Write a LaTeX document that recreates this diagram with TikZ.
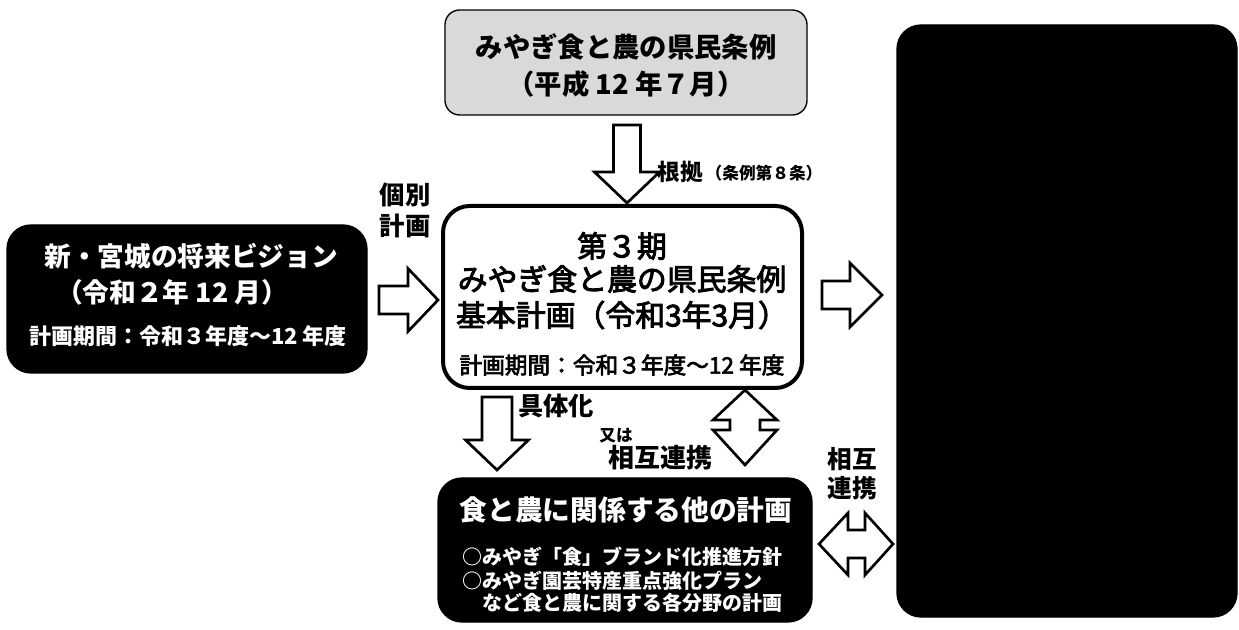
\documentclass[tikz,border=0pt]{standalone}
\usepackage{fontspec}
\setmainfont{Noto Sans CJK JP}
\newfontfamily\jpsemi{Noto Sans CJK JP}[FakeBold=3]
\newcommand{\blkdown}[6]{\draw[blkarrow] ({#1-#4},#2) -- ({#1+#4},#2) -- ({#1+#4},#3) -- ({#1+#5},#3) -- (#1,#6) -- ({#1-#5},#3) -- ({#1-#4},#3) -- cycle;}
\newcommand{\blkright}[6]{\draw[blkarrow] (#2,{#1-#4}) -- (#2,{#1+#4}) -- (#3,{#1+#4}) -- (#3,{#1+#5}) -- (#6,#1) -- (#3,{#1-#5}) -- (#3,{#1-#4}) -- cycle;}
\begin{document}
\begin{tikzpicture}[x=0.75pt,y=-0.75pt,
  blkarrow/.style={draw=black,fill=white,line width=2pt,line join=miter},
  txt/.style={inner sep=0pt,anchor=center},
  whitebox/.style={draw=black,fill=white,rounded corners=20pt,line width=3pt},
  darkbox/.style={draw=black,fill=black,rounded corners=18pt,line width=1pt},
  graybox/.style={draw=black,fill=black!15,rounded corners=11pt,line width=1pt},
  wt/.style={txt,text=white,font=\bfseries}
]
\useasboundingbox (0,0) rectangle (1239,630);
\fill[white] (0,0) rectangle (1239,630);

% boxes
\node[graybox,minimum width=271.5pt,minimum height=78.75pt] (jorei) at (626,62.5) {};
\node[whitebox,minimum width=269.25pt,minimum height=136.5pt] (kihon) at (622.5,297) {};
\node[darkbox,minimum width=270pt,minimum height=111pt] (vision) at (187,299) {};
\node[darkbox,minimum width=255pt,minimum height=444pt] (kuni) at (1067,321) {};
\node[darkbox,minimum width=280.5pt,minimum height=108pt] (other) at (625,550) {};

% top box text
\node[txt,font=\fontsize{20.5}{24}\selectfont\bfseries] (j1) at (626,47) {みやぎ食と農の県民条例};
\node[txt,font=\fontsize{20.5}{24}\selectfont\bfseries] (j2) at (626,84) {（平成 12 年７月）};

% center box text
\node[txt,font=\fontsize{22.4}{26}\selectfont\jpsemi] (k1) at (622,246) {第３期};
\node[txt,font=\fontsize{22.4}{26}\selectfont\jpsemi] (k2) at (622,279) {みやぎ食と農の県民条例};
\node[txt,font=\fontsize{22.4}{26}\selectfont\jpsemi] (k3) at (622,315) {基本計画（令和3年3月）};
\node[txt,font=\fontsize{17}{20}\selectfont\jpsemi] (k4) at (622,365) {計画期間：令和３年度～12 年度};

% left box text
\node[wt,font=\fontsize{20}{24}\selectfont\bfseries] (v1) at (191,256) {新・宮城の将来ビジョン};
\node[wt,font=\fontsize{20}{24}\selectfont\bfseries] (v2) at (172,292) {（令和２年 12 月）};
\node[wt,font=\fontsize{16.5}{20}\selectfont\bfseries] (v3) at (188,336) {計画期間：令和３年度～12 年度};

% bottom box text
\node[wt,font=\fontsize{20.8}{24}\selectfont\bfseries] (o1) at (626,510) {食と農に関係する他の計画};
\node[wt,anchor=west,font=\fontsize{15}{18}\selectfont\bfseries] (o2) at (462,557) {○みやぎ「食」ブランド化推進方針};
\node[wt,anchor=west,font=\fontsize{15}{18}\selectfont\bfseries] (o3) at (462,581) {○みやぎ園芸特産重点強化プラン};
\node[wt,anchor=west,font=\fontsize{15}{18}\selectfont\bfseries] (o4) at (462,603) {　など食と農に関する各分野の計画};

% labels
\node[txt,font=\fontsize{19}{22}\selectfont\bfseries] (kobetsu) at (405,195) {個別};
\node[txt,font=\fontsize{19}{22}\selectfont\bfseries] (keikaku) at (405,226) {計画};
\node[txt,font=\fontsize{17}{20}\selectfont\bfseries] (konkyo) at (680,172) {根拠};
\node[txt,font=\fontsize{12.5}{15}\selectfont\bfseries] (joubun) at (764,173) {（条例第８条）};
\node[txt,font=\fontsize{19}{22}\selectfont\bfseries] (gutai) at (556,406) {具体化};
\node[txt,font=\fontsize{12.5}{15}\selectfont\bfseries] (mataha) at (616,436) {又は};
\node[txt,font=\fontsize{19.5}{23}\selectfont\bfseries] (sogo1) at (660,458) {相互連携};
\node[txt,font=\fontsize{18.5}{22}\selectfont\bfseries] (sogo2a) at (852,459) {相互};
\node[txt,font=\fontsize{18.5}{22}\selectfont\bfseries] (sogo2b) at (852,488) {連携};

% block arrows
\blkdown{627}{125}{172}{13.5}{32.5}{203}
\blkright{300}{379}{408}{14}{31.5}{438}
\blkright{295}{822}{850}{14}{32}{882}
\blkdown{497}{397}{440}{15}{31.5}{470}
% vertical double arrow
\draw[blkarrow] (745,390) -- (777,420) -- (760,420) -- (760,430) -- (777,430) -- (745,465)
  -- (713,430) -- (730,430) -- (730,420) -- (713,420) -- cycle;
% horizontal double arrow
\draw[blkarrow] (819,544) -- (848,513) -- (848,530) -- (865,530) -- (865,513) -- (893,544)
  -- (865,575) -- (865,558) -- (848,558) -- (848,575) -- cycle;
\end{tikzpicture}
\end{document}
